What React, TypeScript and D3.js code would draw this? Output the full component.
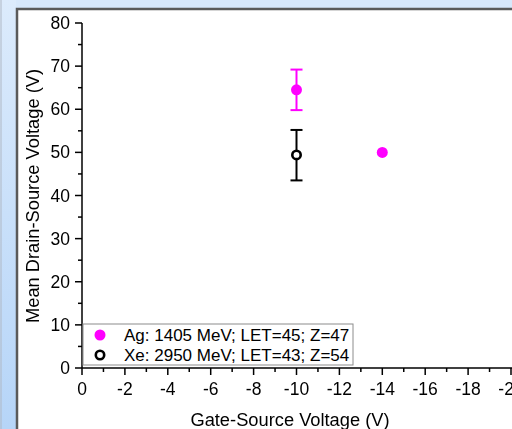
import React from 'react';
import * as d3 from 'd3';

// data
const agPoints = [
  { x: -10, y: 64.5, lo: 59.8, hi: 69.2 },
  { x: -14, y: 50.0, lo: null, hi: null },
];
const xePoints = [
  { x: -10, y: 49.4, lo: 43.5, hi: 55.2 },
];
const xTicks = [0, -2, -4, -6, -8, -10, -12, -14, -16, -18, -20];
const yTicks = [0, 10, 20, 30, 40, 50, 60, 70, 80];
const legendLabels = ['Ag: 1405 MeV; LET=45; Z=47', 'Xe: 2950 MeV; LET=43; Z=54'];

const App = () => {
  const width = 512;
  const height = 429;
  const font = 'Arial, "Liberation Sans", sans-serif';
  const magenta = '#ff00ff';

  const xScale = d3.scaleLinear().domain([0, -20]).range([82, 511]);
  const yScale = d3.scaleLinear().domain([0, 80]).range([368, 23]);

  const xMinor = d3.range(0, 10).map(i => -1 - 2 * i);
  const yMinor = d3.range(0, 8).map(i => 5 + 10 * i);

  const x0 = xScale(0);
  const y0 = yScale(0);

  const errorBar = (d, color, key) => {
    if (d.lo == null) return null;
    const cx = xScale(d.x);
    return (
      <g key={key} stroke={color} strokeWidth={2}>
        <line x1={cx} x2={cx} y1={yScale(d.lo)} y2={yScale(d.hi)} />
        <line x1={cx - 6} x2={cx + 6} y1={yScale(d.lo)} y2={yScale(d.lo)} />
        <line x1={cx - 6} x2={cx + 6} y1={yScale(d.hi)} y2={yScale(d.hi)} />
      </g>
    );
  };

  return (
    <div style={{ position: 'fixed', left: 0, top: 0 }}>
      <svg width={width} height={height} style={{ display: 'block' }}>
        <defs>
          <linearGradient id='leftStrip' x1='0' x2='0' y1='0' y2='1'>
            <stop offset='0%' stopColor='#dcebfc' />
            <stop offset='100%' stopColor='#b6d5f8' />
          </linearGradient>
        </defs>
        {/* window frame */}
        <rect x={0} y={0} width={width} height={height} fill='#d7e8fb' />
        <rect x={0} y={0} width={16} height={height} fill='url(#leftStrip)' />
        <line x1={1} x2={1} y1={0} y2={height} stroke='#b0b8c4' strokeWidth={1} />
        <rect x={17} y={9} width={width} height={height} fill='white' stroke='#5a5a5a' strokeWidth={2.5} />

        {/* axes */}
        <g stroke='black' strokeWidth={1.5}>
          <line x1={x0} x2={x0} y1={yScale(80)} y2={y0} />
          <line x1={x0} x2={width} y1={y0} y2={y0} />
          {yTicks.map(t => (
            <line key={'yt' + t} x1={x0 - 7} x2={x0} y1={yScale(t)} y2={yScale(t)} />
          ))}
          {yMinor.map(t => (
            <line key={'ym' + t} x1={x0 - 4} x2={x0} y1={yScale(t)} y2={yScale(t)} />
          ))}
          {xTicks.map(t => (
            <line key={'xt' + t} x1={xScale(t)} x2={xScale(t)} y1={y0} y2={y0 + 7} />
          ))}
          {xMinor.map(t => (
            <line key={'xm' + t} x1={xScale(t)} x2={xScale(t)} y1={y0} y2={y0 + 4} />
          ))}
        </g>
        <g fontFamily={font} fontSize={17.5} fill='black'>
          {yTicks.map(t => (
            <text key={'yl' + t} x={x0 - 12} y={yScale(t) + 6} textAnchor='end'>{t}</text>
          ))}
          {xTicks.map(t => (
            <text key={'xl' + t} x={xScale(t)} y={y0 + 27} textAnchor='middle'>{t}</text>
          ))}
        </g>
        <text x={290} y={426} textAnchor='middle' fontFamily={font} fontSize={18.3}>Gate-Source Voltage (V)</text>
        <text transform='translate(39,196) rotate(-90)' textAnchor='middle' fontFamily={font} fontSize={18.3}>Mean Drain-Source Voltage (V)</text>

        {/* data */}
        {agPoints.map((d, i) => errorBar(d, magenta, 'ae' + i))}
        {xePoints.map((d, i) => errorBar(d, 'black', 'xe' + i))}
        {agPoints.map((d, i) => (
          <circle key={'ag' + i} cx={xScale(d.x)} cy={yScale(d.y)} r={5.5} fill={magenta} />
        ))}
        {xePoints.map((d, i) => (
          <circle key={'xp' + i} cx={xScale(d.x)} cy={yScale(d.y)} r={4.2} fill='white' stroke='black' strokeWidth={2.6} />
        ))}

        {/* legend */}
        <rect x={83} y={324} width={270} height={41} fill='white' stroke='#8c8c8c' strokeWidth={1} />
        <circle cx={100} cy={335} r={5.5} fill={magenta} />
        <circle cx={100} cy={355} r={4.2} fill='white' stroke='black' strokeWidth={2.6} />
        <g fontFamily={font} fontSize={17}>
          <text x={124} y={341}>{legendLabels[0]}</text>
          <text x={124} y={361}>{legendLabels[1]}</text>
        </g>
      </svg>
    </div>
  );
};

export default App;
